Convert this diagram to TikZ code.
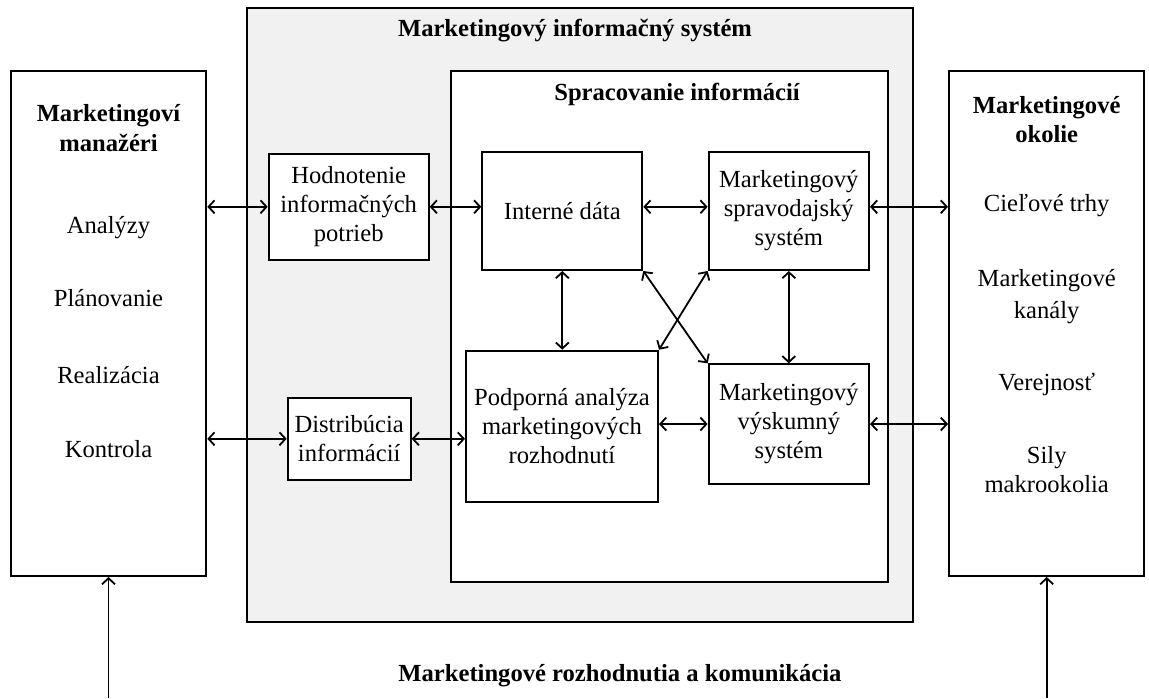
\documentclass[tikz,border=0pt]{standalone}
\usepackage{fontspec}
\setmainfont{Liberation Serif}
\usetikzlibrary{arrows.meta}
\definecolor{misgray}{HTML}{F1F1F1}
\tikzset{
    box/.style = {draw, line width = 1pt, fill = white, inner sep = 0pt, align = center, font = \fontsize{12.3}{14.5}\selectfont},
    lbl/.style = {anchor = base, inner sep = 0pt, font = \fontsize{12.3}{14.5}\selectfont},
    ttl/.style = {anchor = base, inner sep = 0pt, font = \fontsize{12.3}{14.5}\selectfont\bfseries},
    link/.style = {<->, line width = 0.9pt},
}
\begin{document}
\begin{tikzpicture}[x = 0.5pt, y = -0.5pt, >={Straight Barb[length = 3pt, width = 6.5pt]}]
    \useasboundingbox (0, 0) rectangle (1149, 698);

    \node[box, fill = misgray, minimum width = 333pt, minimum height = 306.8pt] (mis) at (580, 315) {};
    \node[box, minimum width = 218.7pt, minimum height = 255.3pt] (spr) at (669.3, 326.3) {};
    \node[box, minimum width = 97.8pt, minimum height = 252.5pt] (mgr) at (108.5, 323.5) {};
    \node[box, minimum width = 97.7pt, minimum height = 252.5pt] (env) at (1046.7, 323.5) {};

    \node[box, minimum width = 80pt, minimum height = 52.8pt] (hod) at (348.7, 206.8) {Hodnotenie\\informačných\\potrieb};
    \node[box, minimum width = 61.5pt, minimum height = 41.2pt] (dis) at (349.2, 438.8) {Distribúcia\\informácií};
    \node[box, minimum width = 80pt, minimum height = 59.2pt] (int) at (562.3, 210.8) {Interné dáta};
    \node[box, minimum width = 80.2pt, minimum height = 59.2pt] (ss) at (788.8, 210.8) {Marketingový\\spravodajský\\systém};
    \node[box, minimum width = 96pt, minimum height = 75.5pt] (pod) at (562, 426.2) {Podporná analýza\\marketingových\\rozhodnutí};
    \node[box, minimum width = 80.2pt, minimum height = 59.7pt] (vs) at (788.8, 424) {Marketingový\\výskumný\\systém};

    \node[ttl] (mistitle) at (575, 36.7) {Marketingový informačný systém};
    \node[ttl] (sprtitle) at (677, 100) {Spracovanie informácií};
    \node[ttl] (bottomtitle) at (620, 681.7) {Marketingové rozhodnutia a komunikácia};

    \node[ttl] (mgr1) at (108.5, 121.7) {Marketingoví};
    \node[ttl] (mgr2) at (108.5, 151.7) {manažéri};
    \node[lbl] (mgra) at (108.5, 233) {Analýzy};
    \node[lbl] (mgrb) at (108.5, 306) {Plánovanie};
    \node[lbl] (mgrc) at (108.5, 383) {Realizácia};
    \node[lbl] (mgrd) at (108.5, 457) {Kontrola};

    \node[ttl] (env1) at (1046.7, 113.3) {Marketingové};
    \node[ttl] (env2) at (1046.7, 142.7) {okolie};
    \node[lbl] (enva) at (1046.7, 211.7) {Cieľové trhy};
    \node[lbl] (envb) at (1046.7, 286.7) {Marketingové};
    \node[lbl] (envc) at (1046.7, 318.3) {kanály};
    \node[lbl] (envd) at (1046.7, 390.7) {Verejnosť};
    \node[lbl] (enve) at (1046.7, 463.3) {Sily};
    \node[lbl] (envf) at (1046.7, 492.7) {makrookolia};

    \draw[link] (hod.west -| mgr.east) -- (hod.west);
    \draw[link] (hod.east) -- (hod.east -| int.west);
    \draw[link] (hod.east -| int.east) -- (hod.east -| ss.west);
    \draw[link] (hod.east -| ss.east) -- (hod.east -| env.west);
    \draw[link] (dis.west -| mgr.east) -- (dis.west);
    \draw[link] (dis.east) -- (dis.east -| pod.west);
    \draw[link] (vs.west -| pod.east) -- (vs.west);
    \draw[link] (vs.east) -- (vs.east -| env.west);
    \draw[link] (int.south) -- (int.south |- pod.north);
    \draw[link] (ss.south) -- (ss.south |- vs.north);
    \draw[link] (int.south east) -- (vs.north west);
    \draw[link] (ss.south west) -- (pod.north east);

    \coordinate (mgrin) at (108.5, 698);
    \coordinate (envin) at (1046.7, 698);
    \draw[->, line width = 0.9pt] (mgrin) -- (mgr.south);
    \draw[->, line width = 0.9pt] (envin) -- (env.south);
\end{tikzpicture}
\end{document}
